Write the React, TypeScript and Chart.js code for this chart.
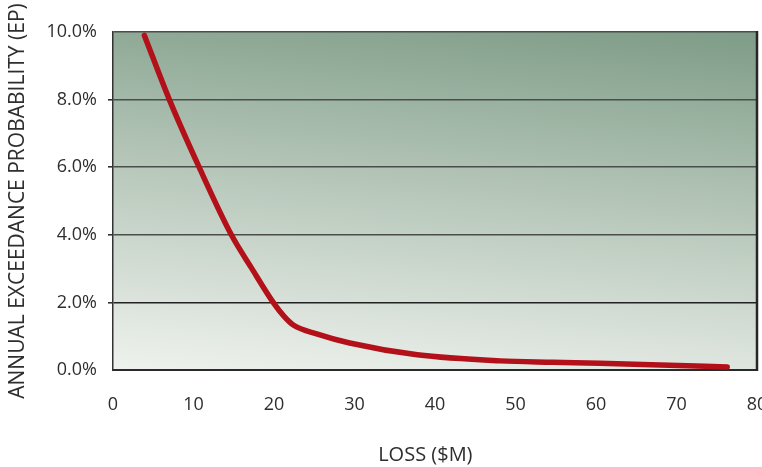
import React, { useEffect, useRef } from "react";
import { Chart, registerables } from "chart.js";

Chart.register(...registerables);

const lossValues = [3.9, 7.0, 10.7, 14.7, 17.2, 19.9, 21.2, 22.4, 25.3, 29.4, 37.8, 48.1, 54.6, 60.5, 68.0, 76.3];
const epValues = [9.9, 8.0, 6.0, 4.0, 3.02, 2.0, 1.6, 1.33, 1.07, 0.8, 0.45, 0.27, 0.23, 0.2, 0.15, 0.09];
const xTicks = [0, 10, 20, 30, 40, 50, 60, 70, 80];
const yTicks = [0, 2, 4, 6, 8, 10];
const xTitle = "LOSS ($M)";
const yTitle = "ANNUAL EXCEEDANCE PROBABILITY (EP)";

const FONT = "'Open Sans', 'Noto Sans', sans-serif";
const TEXT = "#2e2e2e";

const backgroundPlugin = {
  id: "plotBg",
  beforeDraw(chart: any) {
    const { ctx, chartArea } = chart;
    if (!chartArea) return;
    const { left, top, right, bottom } = chartArea;
    const W = right - left;
    const H = bottom - top;
    const dx = 0.093;
    const s = (W * dx + H) / (dx * dx + 1);
    const g = ctx.createLinearGradient(left, bottom, left + s * dx, bottom - s);
    g.addColorStop(0, "#eff2ee");
    g.addColorStop(0.5, "#b9c9bc");
    g.addColorStop(1, "#7e9c87");
    ctx.save();
    ctx.fillStyle = g;
    ctx.fillRect(left, top, W, H);
    ctx.restore();
  },
  afterDraw(chart: any) {
    const { ctx, chartArea } = chart;
    if (!chartArea) return;
    ctx.save();
    ctx.strokeStyle = "#262626";
    ctx.lineWidth = 2.5;
    ctx.beginPath();
    ctx.moveTo(chartArea.right, chartArea.top - 1);
    ctx.lineTo(chartArea.right, chartArea.bottom + 1);
    ctx.stroke();
    // x-axis title, placed as in the reference (slightly left of centre)
    ctx.fillStyle = TEXT;
    ctx.font = `20px ${FONT}`;
    ctx.textAlign = "center";
    ctx.textBaseline = "middle";
    ctx.fillText(xTitle, chartArea.left + (chartArea.right - chartArea.left) * 0.485, 455);
    ctx.restore();
  },
};

export default function App() {
  const canvasRef = useRef<HTMLCanvasElement | null>(null);

  useEffect(() => {
    document.body.style.margin = "0";
    const canvas = canvasRef.current;
    if (!canvas) return;
    const data = lossValues.map((x, i) => ({ x, y: epValues[i] }));
    const chart = new Chart(canvas, {
      type: "line",
      data: {
        datasets: [
          {
            data,
            borderColor: "#b3111a",
            borderWidth: 5.5,
            borderCapStyle: "round",
            borderJoinStyle: "round",
            pointRadius: 0,
            fill: false,
            cubicInterpolationMode: "monotone",
          },
        ],
      },
      options: {
        animation: false,
        responsive: false,
        maintainAspectRatio: false,
        layout: { padding: { top: 32, right: 5, left: 0, bottom: 0 } },
        plugins: { legend: { display: false }, tooltip: { enabled: false } },
        scales: {
          x: {
            type: "linear",
            min: 0,
            max: 80,
            afterBuildTicks: (s: any) => {
              s.ticks = xTicks.map((v) => ({ value: v }));
            },
            afterFit: (s: any) => {
              s.height = 97;
              s.paddingLeft = 0;
              s.paddingRight = 0;
            },
            grid: { display: false, drawTicks: false },
            border: { display: true, color: "#2a2a2a", width: 2 },
            ticks: {
              padding: 24,
              color: TEXT,
              font: { family: FONT, size: 18 },
              maxRotation: 0,
              callback: (v: any) => String(v),
            },
            title: { display: false },
          },
          y: {
            type: "linear",
            min: 0,
            max: 10,
            afterBuildTicks: (s: any) => {
              s.ticks = yTicks.map((v) => ({ value: v }));
            },
            afterFit: (s: any) => {
              s.width = 113;
              s.paddingTop = 0;
              s.paddingBottom = 0;
            },
            grid: {
              drawTicks: true,
              tickLength: 5,
              lineWidth: 1.6,
              color: (c: any) => (c.tick && c.tick.value === 0 ? "transparent" : c.tick && c.tick.value === 2 ? "#222" : "#4a4d4a"),
              tickColor: (c: any) => (c.tick && (c.tick.value === 0 || c.tick.value === 10) ? "transparent" : "#333"),
            },
            border: { display: true, color: "#333", width: 1.5 },
            ticks: {
              padding: 11,
              color: TEXT,
              font: { family: FONT, size: 18 },
              callback: (v: any) => Number(v).toFixed(1) + "%",
            },
            title: {
              display: true,
              text: yTitle,
              color: TEXT,
              font: { family: FONT, size: 21 },
              padding: { top: 5.5, bottom: 5.5 },
            },
          },
        },
      },
      plugins: [backgroundPlugin],
    } as any);
    return () => chart.destroy();
  }, []);

  return (
    <div style={{ width: 762, height: 467, position: "relative" }}>
      <canvas ref={canvasRef} width={762} height={467} style={{ width: 762, height: 467, display: "block" }} />
    </div>
  );
}
